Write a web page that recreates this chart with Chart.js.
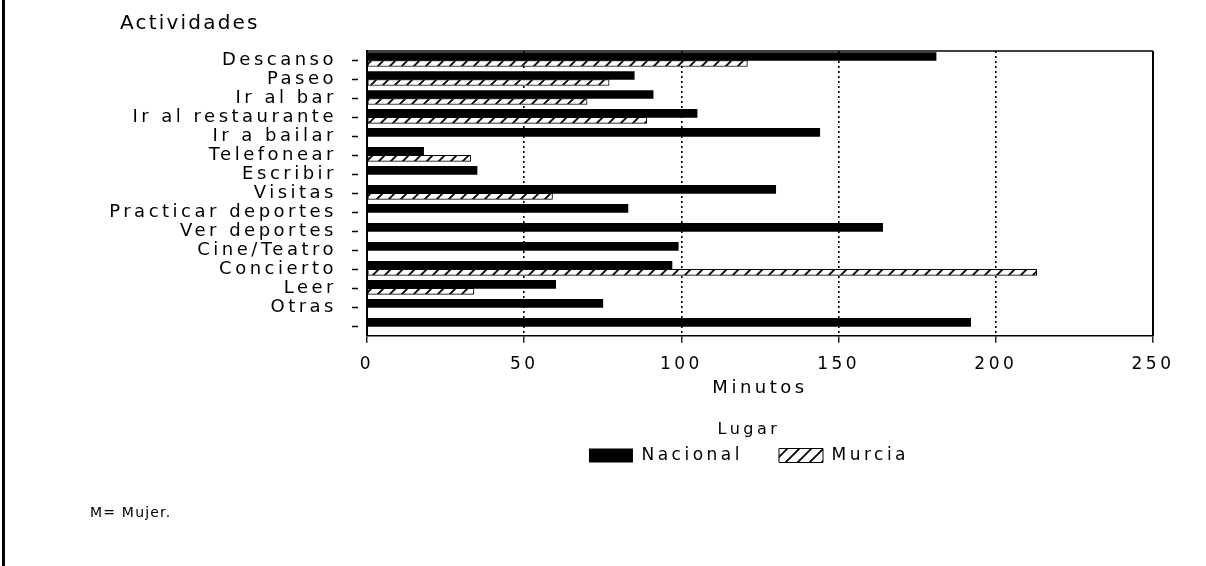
<!DOCTYPE html>
<html><head><meta charset="utf-8">
<script src="https://cdn.jsdelivr.net/npm/chart.js@4/dist/chart.umd.min.js"></script>
<style>
html,body{margin:0;padding:0;background:#fff;}
#wrap{position:relative;width:1206px;height:566px;overflow:hidden;background:#fff;}
#c{position:absolute;left:0;top:0;}
.lbl{position:absolute;font-family:"DejaVu Sans",sans-serif;color:#000;white-space:nowrap;}
#edge{position:absolute;left:2px;top:0;width:3px;height:566px;background:#000;}
</style></head><body>
<div id="wrap">
<canvas id="c" width="1206" height="566"></canvas>
<div id="edge"></div>
<div class="lbl" style="left:120px;top:11px;font-size:20px;line-height:22px;letter-spacing:2.2px;">Actividades</div>
<div class="lbl" style="left:90px;top:504px;font-size:14px;line-height:16px;letter-spacing:1.2px;">M= Mujer.</div>
</div>
<script>
const categories = ["Descanso","Paseo","Ir al bar","Ir al restaurante","Ir a bailar","Telefonear","Escribir","Visitas","Practicar deportes","Ver deportes","Cine/Teatro","Concierto","Leer","Otras",""];
const nacional = [181,85,91,105,144,18,35,130,83,164,99,97,60,75,192];
const murcia = [121,77,70,89,null,33,null,59,null,null,null,213,34,null,null];
const xTickValues = [0,50,100,150,200,250];
const seriesNames = ["Nacional","Murcia"];
const xTitle = "Minutos";
const legendTitle = "Lugar";

const FAM = "'DejaVu Sans', sans-serif";
Chart.defaults.font.family = FAM;
Chart.defaults.color = '#000';

const canvas = document.getElementById('c');
const ctx0 = canvas.getContext('2d');
function makeHatch(){
  const s = 12;
  const c = document.createElement('canvas'); c.width = s; c.height = s;
  const g = c.getContext('2d');
  g.fillStyle = '#fff'; g.fillRect(0,0,s,s);
  g.strokeStyle = '#000'; g.lineWidth = 1.8;
  g.beginPath();
  g.moveTo(-2, s+2); g.lineTo(s+2, -2);
  g.moveTo(-s/2-2, s/2+2); g.lineTo(s/2+2, -s/2-2);
  g.moveTo(s/2-2, 1.5*s+2); g.lineTo(1.5*s+2, s/2-2);
  g.stroke();
  return ctx0.createPattern(c, 'repeat');
}
const hatch = makeHatch();

const LS = '3.5px';
const spacingPlugin = {
  id: 'spacing',
  beforeUpdate(chart){ chart.ctx.letterSpacing = LS; },
  beforeLayout(chart){ chart.ctx.letterSpacing = LS; },
  afterLayout(chart){
    if (chart.legend) { chart.legend.left -= 11; chart.legend.right -= 11; }
  },
  beforeDraw(chart){ chart.ctx.letterSpacing = LS; }
};
const framePlugin = {
  id: 'frame',
  afterDraw(chart){
    const {ctx, chartArea: a} = chart;
    ctx.save();
    ctx.strokeStyle = '#000';
    ctx.lineWidth = 1.5;
    ctx.beginPath();
    ctx.moveTo(a.left, a.top); ctx.lineTo(a.right, a.top);
    ctx.stroke();
    ctx.lineWidth = 2;
    ctx.beginPath();
    ctx.moveTo(a.right, a.top); ctx.lineTo(a.right, a.bottom);
    ctx.stroke();
    ctx.restore();
  }
};

new Chart(canvas, {
  type: 'bar',
  data: {
    labels: categories,
    datasets: [
      { label: seriesNames[0], data: nacional, backgroundColor: '#000', borderWidth: 0, barThickness: 8 },
      { label: seriesNames[1], data: murcia, backgroundColor: hatch, borderColor: '#000', borderWidth: 1, borderSkipped: false, barThickness: 6 }
    ]
  },
  options: {
    indexAxis: 'y',
    responsive: false,
    animation: false,
    devicePixelRatio: 1,
    layout: { padding: { left: 0, right: 53, top: 51, bottom: 92 } },
    scales: {
      x: {
        type: 'linear', position: 'bottom', min: 0, max: 250,
        afterBuildTicks(s){ s.ticks = xTickValues.map(v => ({ value: v })); },
        ticks: { color: '#000', font: { size: 17 }, padding: 12, maxRotation: 0 },
        grid: {
          color: c => (c.tick && (c.tick.value === 0 || c.tick.value === 250)) ? 'rgba(0,0,0,0)' : '#000',
          lineWidth: 1.6, tickColor: '#000', tickLength: 7, tickWidth: 1.3, z: 0
        },
        border: { color: '#000', width: 1.5, dash: [2, 3] },
        title: { display: true, text: xTitle, color: '#000', font: { size: 18 }, padding: { top: 0, bottom: 0 } },
        afterFit(s){ s.height = 63; }
      },
      y: {
        type: 'category', position: 'left', offset: true,
        grid: { offset: false, drawOnChartArea: false, drawTicks: true, tickLength: 15, tickColor: '#000', tickWidth: 1.5, tickBorderDash: [6, 20] },
        border: { color: '#000', width: 2 },
        ticks: { color: '#000', font: { size: 18 }, padding: 15, autoSkip: false },
        afterFit(s){ s.width = 367; }
      }
    },
    plugins: {
      legend: {
        position: 'bottom', fullSize: false,
        title: { display: true, text: legendTitle, color: '#000', font: { size: 16 }, padding: { top: 23, bottom: -30 } },
        labels: { boxWidth: 44, boxHeight: 14, padding: 36, color: '#000', font: { size: 17 } }
      },
      tooltip: { enabled: false }
    }
  },
  plugins: [spacingPlugin, framePlugin]
});
</script>
</body></html>
